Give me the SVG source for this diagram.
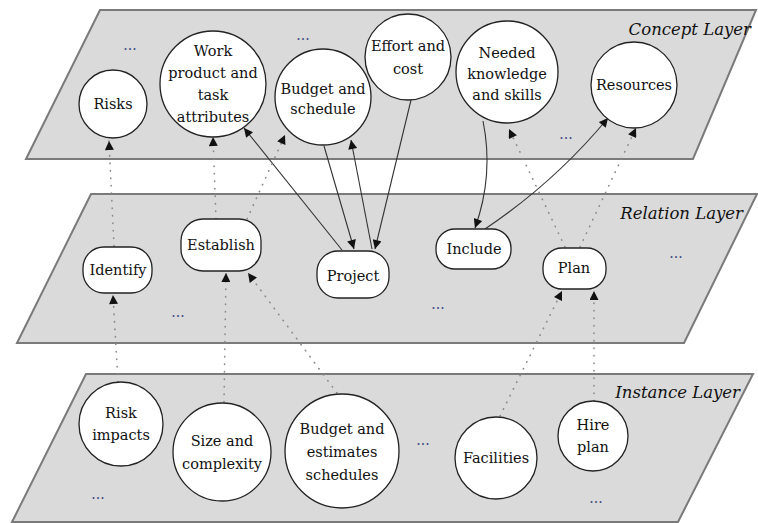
<svg xmlns="http://www.w3.org/2000/svg" width="758" height="523" viewBox="0 0 758 523">
<defs>
<style>
.plane{fill:#dadada;stroke:#7a7a7a;stroke-width:2}
.circ{fill:#fff;stroke:#222;stroke-width:1.3}
.rel{fill:#fff;stroke:#222;stroke-width:1.3}
text{font-family:'DejaVu Serif','Noto Serif',serif}
.t{font-size:14.5px;fill:#111;text-anchor:middle}
.layer{font-size:16.5px;font-style:italic;fill:#111;text-anchor:end}
.dots{font-size:14px;fill:#3a4a80;text-anchor:middle}
.solid{fill:none;stroke:#333;stroke-width:1.1;marker-end:url(#ah)}
.dot{fill:none;stroke:#8a8a8a;stroke-width:1.6;stroke-linecap:round;stroke-dasharray:0.5 7;marker-end:url(#ah)}
</style>
<marker id="ah" viewBox="0 0 10 10" refX="10" refY="5" markerUnits="userSpaceOnUse" markerWidth="10" markerHeight="9" orient="auto">
<path d="M0,0 L10,5 L0,10 z" fill="#111"/>
</marker>
</defs>
<rect width="758" height="523" fill="#fff"/>

<g id="layers">
<polygon class="plane" points="100,10 756,10 693,159 26,159"/>
<polygon class="plane" points="91,194 757,194 684,343 17,343"/>
<polygon class="plane" points="86,374 753,374 678,522 12,522"/>
<text class="layer" x="751" y="35">Concept Layer</text>
<text class="layer" x="743" y="219">Relation Layer</text>
<text class="layer" x="740" y="398">Instance Layer</text>
</g>

<g id="ellipses">
<text class="dots" x="130" y="50">...</text>
<text class="dots" x="303" y="40">...</text>
<text class="dots" x="566" y="139">...</text>
<text class="dots" x="178" y="317">...</text>
<text class="dots" x="438" y="309">...</text>
<text class="dots" x="676" y="258">...</text>
<text class="dots" x="98" y="499">...</text>
<text class="dots" x="423" y="445">...</text>
<text class="dots" x="596" y="503">...</text>
</g>

<g id="connectors">
<path class="solid" d="M342,250 L244,128"/>
<path class="solid" d="M324,146 L354,249"/>
<path class="solid" d="M372,249 L351,140"/>
<path class="solid" d="M411,100 L375,249"/>
<path class="solid" d="M483,121 Q494,175 475,228"/>
<path class="solid" d="M485,229 Q555,182 608,118"/>
<path class="dot" d="M114,246 L109,141"/>
<path class="dot" d="M216,219 L213,137"/>
<path class="dot" d="M247,219 L285,135"/>
<path class="dot" d="M565,247 L509,129"/>
<path class="dot" d="M580,247 L636,128"/>
<path class="dot" d="M118,382 L113,295"/>
<path class="dot" d="M224,402 L226,273"/>
<path class="dot" d="M337,393 L248,273"/>
<path class="dot" d="M500,416 L562,291"/>
<path class="dot" d="M594,401 L594,291"/>
</g>

<g id="risks"><circle class="circ" cx="113" cy="104" r="34"/><text class="t" x="113" y="109">Risks</text></g>
<g id="work-product"><circle class="circ" cx="213" cy="84" r="53"/><text class="t" x="213" y="56">Work</text><text class="t" x="213" y="78">product and</text><text class="t" x="213" y="100">task</text><text class="t" x="213" y="122">attributes</text></g>
<g id="budget-schedule"><circle class="circ" cx="323" cy="97" r="48"/><text class="t" x="323" y="94">Budget and</text><text class="t" x="323" y="114">schedule</text></g>
<g id="effort-cost"><circle class="circ" cx="408" cy="57" r="43"/><text class="t" x="408" y="51">Effort and</text><text class="t" x="408" y="74">cost</text></g>
<g id="needed-knowledge"><circle class="circ" cx="507" cy="72" r="51"/><text class="t" x="507" y="58">Needed</text><text class="t" x="507" y="79">knowledge</text><text class="t" x="507" y="100">and skills</text></g>
<g id="resources"><circle class="circ" cx="634" cy="85" r="43"/><text class="t" x="634" y="90">Resources</text></g>

<g id="identify"><rect class="rel" x="83" y="247" width="69" height="46" rx="21"/><text class="t" x="118" y="275">Identify</text></g>
<g id="establish"><rect class="rel" x="181" y="219" width="80" height="52" rx="22"/><text class="t" x="221" y="250">Establish</text></g>
<g id="project"><rect class="rel" x="317" y="251" width="72" height="47" rx="21"/><text class="t" x="353" y="281">Project</text></g>
<g id="include"><rect class="rel" x="436" y="229" width="75" height="40" rx="19"/><text class="t" x="474" y="254">Include</text></g>
<g id="plan"><rect class="rel" x="543" y="248" width="63" height="41" rx="19"/><text class="t" x="574" y="273">Plan</text></g>

<g id="risk-impacts"><circle class="circ" cx="121" cy="424" r="42"/><text class="t" x="121" y="418">Risk</text><text class="t" x="121" y="440">impacts</text></g>
<g id="size-complexity"><circle class="circ" cx="222" cy="452" r="49"/><text class="t" x="222" y="446">Size and</text><text class="t" x="222" y="469">complexity</text></g>
<g id="budget-estimates"><circle class="circ" cx="342" cy="451" r="57"/><text class="t" x="342" y="434">Budget and</text><text class="t" x="342" y="457">estimates</text><text class="t" x="342" y="480">schedules</text></g>
<g id="facilities"><circle class="circ" cx="496" cy="458" r="41"/><text class="t" x="496" y="463">Facilities</text></g>
<g id="hire-plan"><circle class="circ" cx="593" cy="436" r="35"/><text class="t" x="593" y="430">Hire</text><text class="t" x="593" y="452">plan</text></g>
</svg>
